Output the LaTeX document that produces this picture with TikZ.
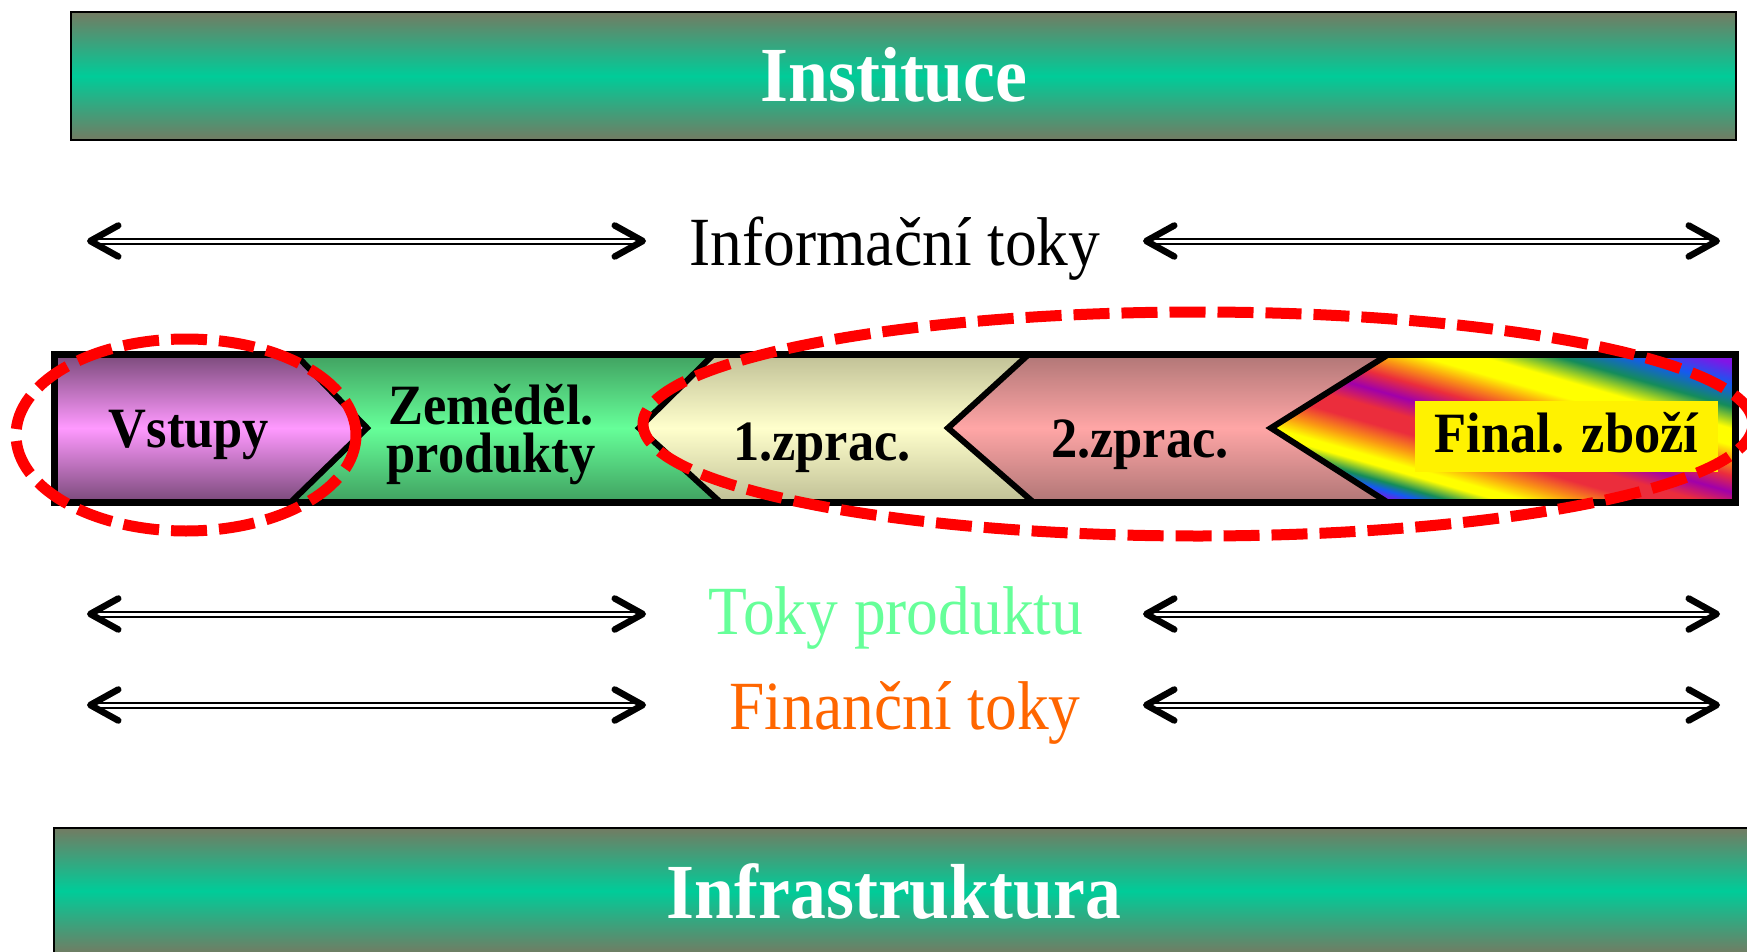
\documentclass[tikz,border=0pt]{standalone}
\usepackage{fontspec}
\setmainfont{Liberation Serif}[FakeStretch=0.92]
\usetikzlibrary{arrows.meta,shapes.geometric,positioning}

\definecolor{bandark}{RGB}{115,123,98}
\definecolor{banlight}{RGB}{0,204,153}
\definecolor{vsdark}{RGB}{122,74,122}
\definecolor{vslight}{RGB}{255,153,255}
\definecolor{zedark}{RGB}{64,160,96}
\definecolor{zelight}{RGB}{102,255,153}
\definecolor{zpadark}{RGB}{192,192,150}
\definecolor{zpalight}{RGB}{255,255,204}
\definecolor{zpbdark}{RGB}{176,118,118}
\definecolor{zpblight}{RGB}{255,166,166}
\definecolor{prodgreen}{RGB}{102,255,153}
\definecolor{finorange}{RGB}{255,102,0}
\definecolor{fpurple}{RGB}{130,20,230}
\definecolor{fblue}{RGB}{20,90,240}
\definecolor{fgreen}{RGB}{20,140,90}
\definecolor{fyellow}{RGB}{255,255,0}
\definecolor{forange}{RGB}{250,150,20}
\definecolor{fred}{RGB}{235,45,60}
\definecolor{fmagenta}{RGB}{160,0,170}

% stripes across the final goods part, 25bp..75bp = 300pt
\pgfdeclareverticalshading{finalstripes}{100bp}{%
  color(0bp)=(fpurple); color(33.2bp)=(fpurple); color(34.7bp)=(fblue);
  color(36bp)=(fgreen); color(38.3bp)=(fyellow); color(39.5bp)=(fyellow);
  color(42bp)=(forange); color(44.8bp)=(fred); color(47.5bp)=(fred);
  color(50.3bp)=(fmagenta); color(53bp)=(fred); color(55.5bp)=(forange);
  color(57.8bp)=(fyellow); color(60.5bp)=(fyellow); color(64bp)=(fgreen);
  color(67.5bp)=(fblue); color(71bp)=(fpurple); color(100bp)=(fpurple)}

\begin{document}
\begin{tikzpicture}[x=1pt,y=-1pt,
    every node/.style={inner sep=0pt},
    banner/.style={draw=black, line width=2pt, top color=bandark, bottom color=bandark, middle color=banlight},
    bantext/.style={anchor=base, text=white, font=\fontsize{78}{80}\selectfont\bfseries},
    flowtext/.style={anchor=base, font=\fontsize{69}{72}\selectfont},
    barlabel/.style={font=\fontsize{57}{48}\selectfont\bfseries},
    flowarrow/.style={double=white, double distance=3pt, line width=2pt,
      {Straight Barb[length=28pt,width=31pt,line width=6.5pt,round]}-{Straight Barb[length=28pt,width=31pt,line width=6.5pt,round]}},
    chevline/.style={line width=6pt, line join=miter},
    redring/.style={ellipse, draw=red, line width=11pt, dash pattern=on 36pt off 12pt}]
  \useasboundingbox (0,0) rectangle (1747,952);

  % banners
  \node[banner, anchor=north west, minimum width=1665pt, minimum height=128pt] (inst) at (70,11) {};
  \node[banner, anchor=north west, minimum width=1710pt, minimum height=126pt] (infra) at (53,827) {};
  \node[bantext] (insttext) at (894,102) {Instituce};
  \node[bantext] (infratext) at (894,918) {Infrastruktura};

  % flows
  \node[flowtext] (infotext) at (895,265) {Informační toky};
  \node[flowtext, text=prodgreen] (prodtext) at (896,634) {Toky produktu};
  \node[flowtext, text=finorange] (fintext) at (905,729) {Finanční toky};
  \foreach \row/\y in {info/241, prod/614, fin/705} {
    \coordinate (\row A) at (87,\y);
    \coordinate (\row B) at (646,\y);
    \coordinate (\row C) at (1143,\y);
    \coordinate (\row D) at (1720,\y);
    \draw[flowarrow] (\row A) -- (\row B);
    \draw[flowarrow] (\row C) -- (\row D);
  }

  % chain bar
  \coordinate (barNW) at (54,354);
  \coordinate (barNE) at (1735,354);
  \coordinate (barSE) at (1735,502);
  \coordinate (barSW) at (54,502);
  \coordinate (vsT) at (295,354);
  \coordinate (vsTip) at (367,428);
  \coordinate (vsB) at (291,502);
  \coordinate (zpaT) at (714,354);
  \coordinate (zpaTip) at (639,428);
  \coordinate (zpaB) at (720,502);
  \coordinate (zpbT) at (1029,354);
  \coordinate (zpbTip) at (948,428);
  \coordinate (zpbB) at (1033,502);
  \coordinate (fiT) at (1389,354);
  \coordinate (fiTip) at (1271,428);
  \coordinate (fiB) at (1387,502);

  \path[top color=zedark, bottom color=zedark, middle color=zelight] (barNW) rectangle (barSE);
  \path[top color=vsdark, bottom color=vsdark, middle color=vslight] (barNW) -- (vsT) -- (vsTip) -- (vsB) -- (barSW) -- cycle;
  \draw[chevline] (vsT) -- (vsTip) -- (vsB);
  \path[top color=zpadark, bottom color=zpadark, middle color=zpalight] (zpaT) -- (zpaTip) -- (zpaB) -- (barSE) -- (barNE) -- cycle;
  \draw[chevline] (zpaT) -- (zpaTip) -- (zpaB);
  \path[top color=zpbdark, bottom color=zpbdark, middle color=zpblight] (zpbT) -- (zpbTip) -- (zpbB) -- (barSE) -- (barNE) -- cycle;
  \draw[chevline] (zpbT) -- (zpbTip) -- (zpbB);
  \begin{scope}
    \clip (fiT) -- (fiTip) -- (fiB) -- (barSE) -- (barNE) -- cycle;
    \begin{scope}[transform canvas={rotate around={-16:(1502,428)}}]
      \shade[shading=finalstripes] (1262,278) rectangle (1762,578);
    \end{scope}
  \end{scope}
  \draw[chevline] (fiT) -- (fiTip) -- (fiB);
  \draw[line width=7pt] (barNW) rectangle (barSE);

  \node[barlabel, anchor=base] (vstupy) at (189,447) {Vstupy};
  \node[barlabel, align=center] (zemed) at (491,435) {Zeměděl.\\produkty};
  \node[barlabel, anchor=base] (zpraca) at (822,460) {1.zprac.};
  \node[barlabel, anchor=base] (zpracb) at (1140,457) {2.zprac.};
  \node[barlabel, fill=yellow, minimum width=303pt, minimum height=71pt, text height=40pt, text depth=9pt] (final) at (1566.5,436.5) {Final. zboží};

  % dashed groups
  \node[redring, minimum width=340pt, minimum height=192pt] (vsring) at (186,435) {};
  \node[redring, minimum width=1110pt, minimum height=224pt] (zpring) at (1198,424) {};
\end{tikzpicture}
\end{document}
